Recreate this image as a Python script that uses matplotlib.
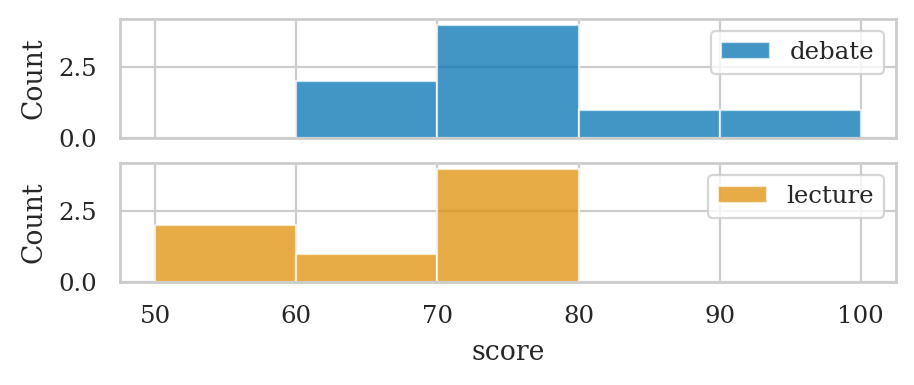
import matplotlib
matplotlib.use("Agg")
import matplotlib.pyplot as plt
import seaborn as sns
import numpy as np

sns.set_theme(context="paper", style="whitegrid")
plt.rcParams['font.family'] = ['DejaVu Serif']

bin_edges = [50, 60, 70, 80, 90, 100]
debate_counts = [0, 2, 4, 1, 1]
lecture_counts = [2, 1, 4, 0, 0]
groups = ["debate", "lecture"]
palette = sns.color_palette("colorblind")
colors = [palette[0], palette[1]]

fig = plt.figure(figsize=(4.57, 1.925), dpi=200)
ax1 = fig.add_axes([0.1313, 0.6416, 0.849, 0.309])
ax2 = fig.add_axes([0.1313, 0.2675, 0.849, 0.309], sharex=ax1)

centers = [(a + b) / 2 for a, b in zip(bin_edges[:-1], bin_edges[1:])]
for ax, counts, name, c in zip([ax1, ax2], [debate_counts, lecture_counts], groups, colors):
    ax.hist(centers, bins=bin_edges, weights=counts, color=c, alpha=0.75,
            edgecolor="white", label=name)
    ax.set_ylabel("Count")
    ax.set_yticks([0.0, 2.5])
    ax.legend(loc="upper right")

plt.setp(ax1.get_xticklabels(), visible=False)
ax2.set_xlabel("score")
ax2.set_xticks([50, 60, 70, 80, 90, 100])

fig.savefig("out.png", dpi=200)
